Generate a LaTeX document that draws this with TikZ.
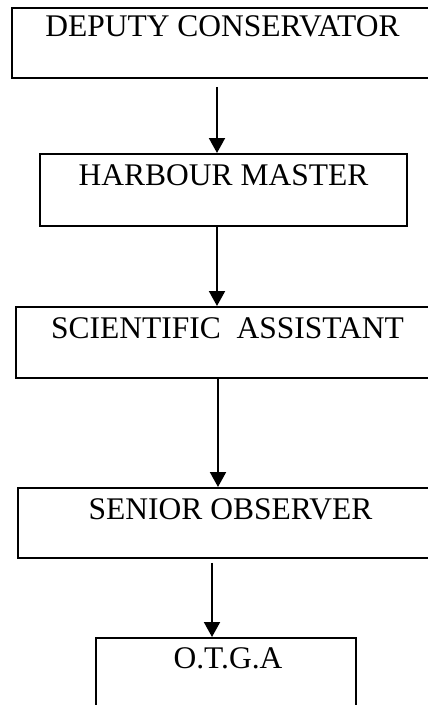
\documentclass[tikz,border=0pt]{standalone}
\usepackage{fontspec}
\setmainfont{Liberation Serif}
\usetikzlibrary{arrows.meta}
\begin{document}
\begin{tikzpicture}[x=1pt,y=-1pt,
  orgbox/.style={draw, line width=1.8pt, inner sep=0pt, anchor=north, font=\fontsize{31.5}{36}\selectfont},
  conn/.style={line width=2pt, -{Triangle[width=16pt,length=15pt]}}]
\useasboundingbox (0,0) rectangle (428,705);
\clip (0,0) rectangle (428,705);
\node[orgbox, minimum width=421pt, text height=29pt, text depth=41pt] (dc) at (222.5,7) {DEPUTY CONSERVATOR};
\node[orgbox, minimum width=367pt, text height=32pt, text depth=40pt] (hm) at (223.5,153) {HARBOUR MASTER};
\node[orgbox, minimum width=423pt, text height=32pt, text depth=39pt] (sa) at (227.5,306) {SCIENTIFIC\ \ ASSISTANT};
\node[orgbox, minimum width=425pt, text height=32pt, text depth=38pt] (so) at (230.5,487) {SENIOR OBSERVER};
\node[orgbox, minimum width=260pt, text height=31pt, text depth=41pt] (og) at (226,637) {\hspace{4pt}O.T.G.A};
\draw[conn] ([xshift=-5.5pt,yshift=-8pt]dc.south) -- ([xshift=-6.5pt]hm.north);
\draw[conn] ([xshift=-6.5pt]hm.south) -- ([xshift=-10.5pt]sa.north);
\draw[conn] ([xshift=-9.5pt]sa.south) -- ([xshift=-12.5pt]so.north);
\draw[conn] ([xshift=-18.5pt,yshift=-4pt]so.south) -- ([xshift=-14pt]og.north);
\end{tikzpicture}
\end{document}
